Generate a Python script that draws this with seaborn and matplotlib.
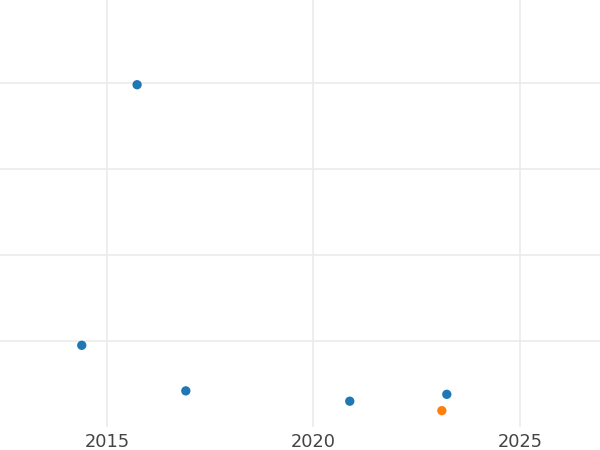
import matplotlib
matplotlib.use("Agg")
import matplotlib.pyplot as plt
import seaborn as sns
import pandas as pd

years = [2015.73, 2014.39, 2016.91, 2020.88, 2023.23, 2023.11]
values = [3.98, 0.95, 0.42, 0.30, 0.38, 0.19]
groups = ["A", "A", "A", "A", "A", "B"]
x_ticks = [2015, 2020, 2025]
y_ticks = [1, 2, 3, 4]

df = pd.DataFrame({"year": years, "value": values, "group": groups})

sns.set_theme(style="whitegrid")
plt.rcParams['font.family'] = ['DejaVu Sans']

fig = plt.figure(figsize=(6, 4.5), dpi=100)
ax = fig.add_axes([0, 1 - 427/450, 1, 427/450])
sns.scatterplot(data=df, x="year", y="value", hue="group",
                palette={"A": "#1f77b4", "B": "#ff7f0e"},
                s=45, linewidth=0, legend=False, ax=ax)
ax.set_xlim(2012.41, 2026.94)
ax.set_ylim(0, 4.965)
ax.set_xticks(x_ticks)
ax.set_yticks(y_ticks)
ax.set_yticklabels([])
ax.set_xlabel("")
ax.set_ylabel("")
ax.grid(True, color="#ebebeb", linewidth=1.2)
for s in ax.spines.values():
    s.set_visible(False)
ax.tick_params(axis="x", length=0, labelsize=12.8, labelcolor="#444444", pad=4.5)
ax.tick_params(axis="y", length=0)
fig.savefig("out.png", dpi=100)
